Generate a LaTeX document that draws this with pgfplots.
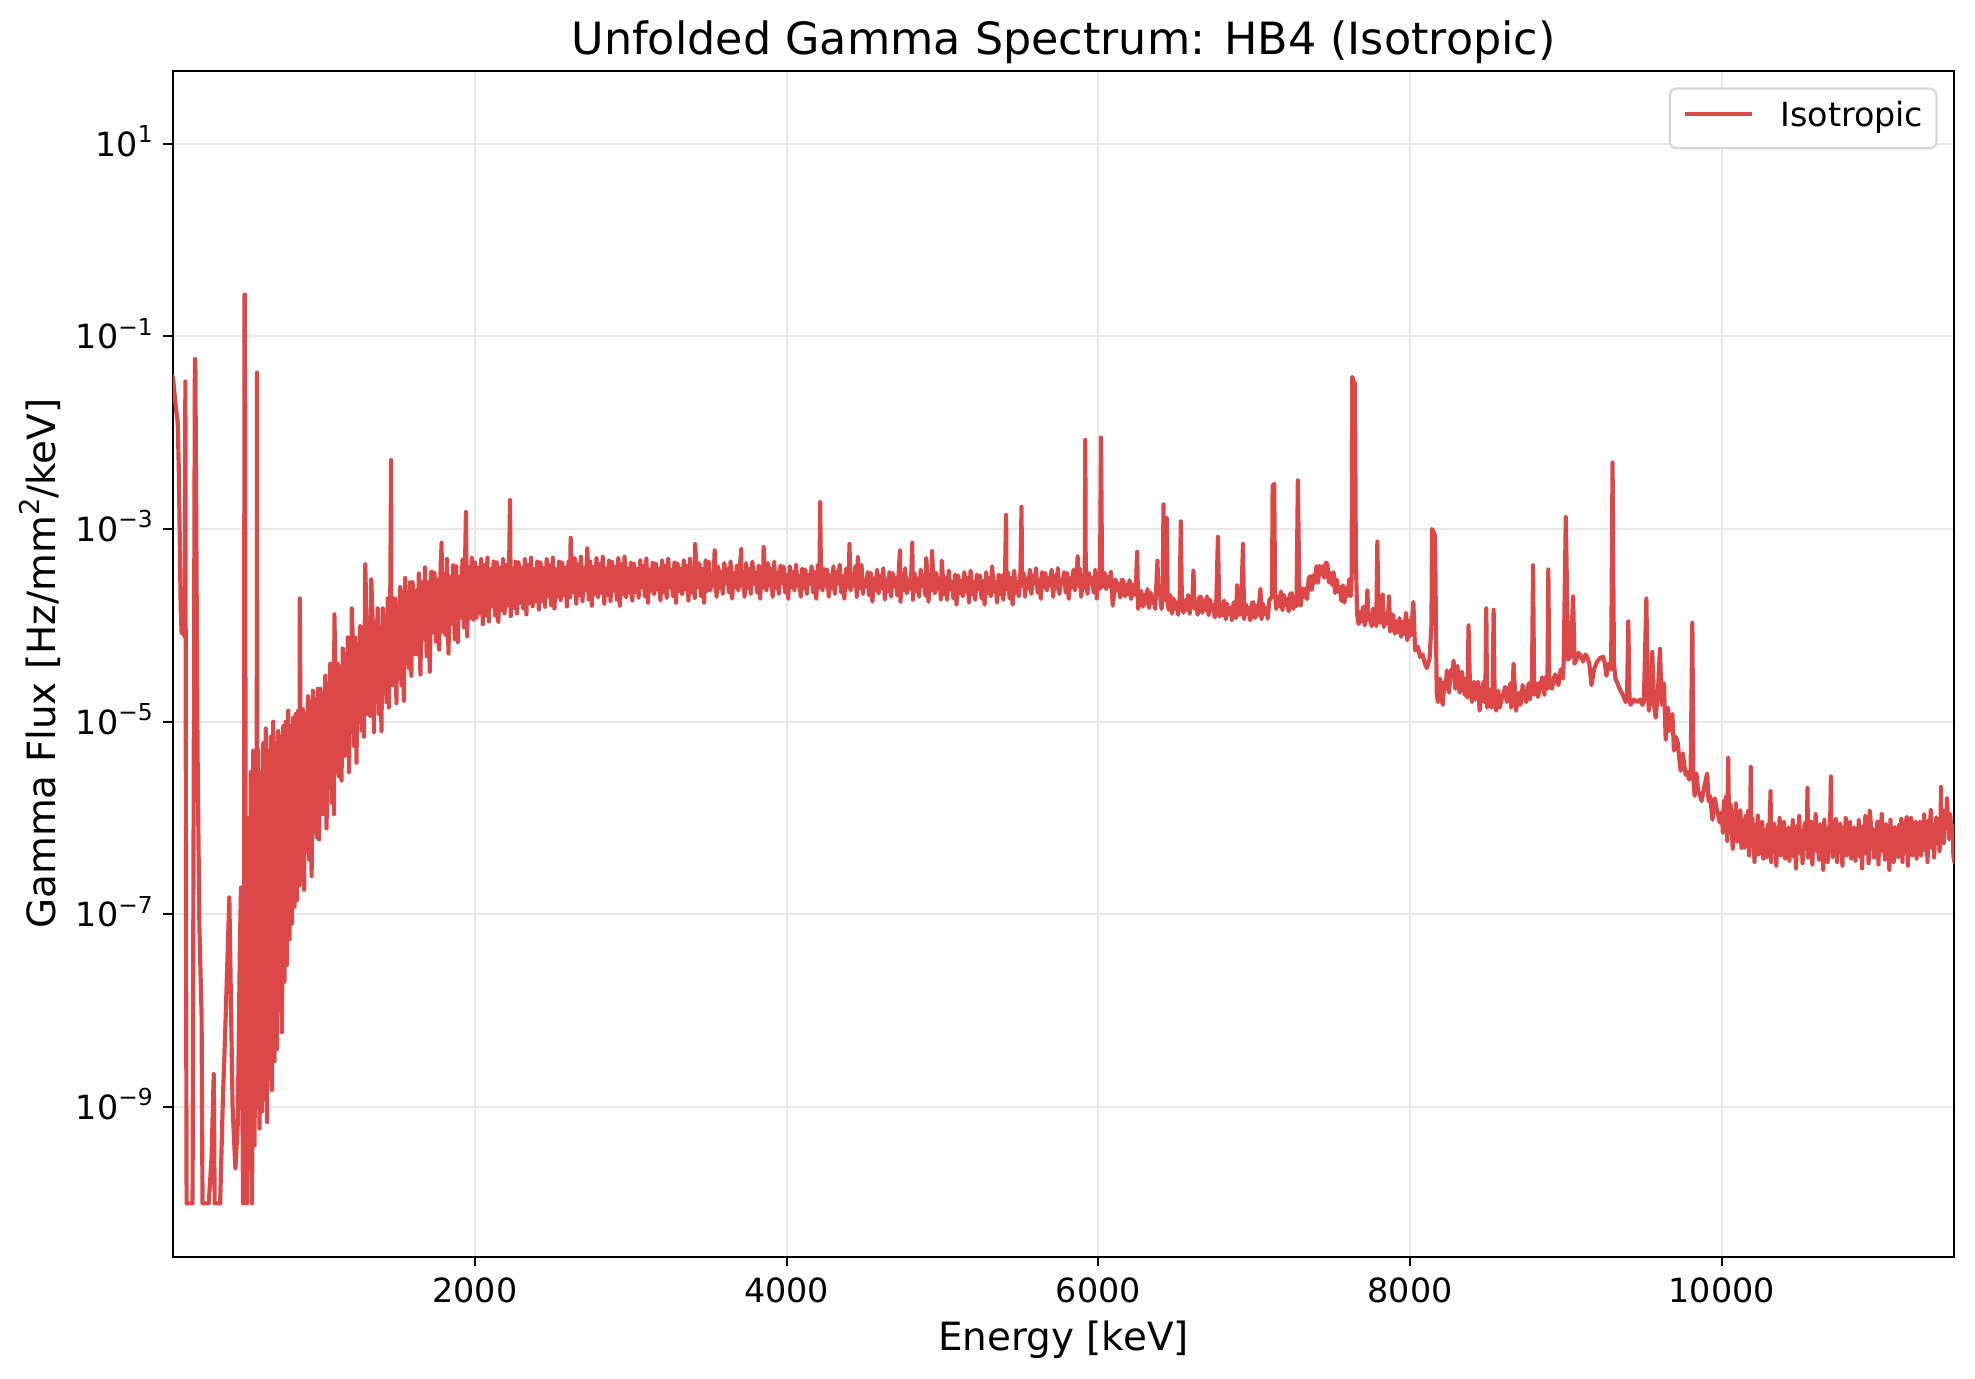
\documentclass[border=0pt]{standalone}
\usepackage{fontspec}
\setmainfont{DejaVu Sans}
\usepackage{pgfplots}
\pgfplotsset{compat=1.18}
\definecolor{isored}{RGB}{220,71,72}
\definecolor{gridgray}{RGB}{231,231,231}
\definecolor{legedge}{RGB}{214,214,214}
\newcommand{\tp}[1]{10\raisebox{4.9pt}{\fontsize{8.4}{9}\selectfont #1}}
\begin{document}
\begin{tikzpicture}
\begin{axis}[
  scale only axis, width=641.45pt, height=426.96pt,
  ymode=log, xmin=61, xmax=11492, ymin=2.8e-11, ymax=57,
  xtick={2000,4000,6000,8000,10000},
  xticklabels={2000,4000,6000,8000,10000},
  ytick={1e-9,1e-7,1e-5,1e-3,1e-1,1e1},
  yticklabels={\tp{−9},\tp{−7},\tp{−5},\tp{−3},\tp{−1},\tp{1}},
  scaled x ticks=false,
  xminorticks=false, yminorticks=false,
  tick pos=left, tick align=outside, major tick length=3.5pt,
  every tick/.style={black, line width=0.8pt},
  axis line style={line width=0.8pt},
  grid=major, major grid style={gridgray, line width=0.8pt},
  ticklabel style={font=\fontsize{12}{14}\selectfont},
  xticklabel style={anchor=base, yshift=-12.9pt},
  yticklabel style={anchor=base east, inner sep=0pt, xshift=-3.5pt, yshift=-4.5pt},
  title={Unfolded Gamma Spectrum: HB4 (Isotropic)},
  title style={at={(axis description cs:0.5,1)}, anchor=base, font=\fontsize{16}{19}\selectfont, inner sep=0pt},
  xlabel={Energy [keV]},
  xlabel style={at={(axis description cs:0.5,0)}, anchor=base, yshift=-33.8pt, font=\fontsize{14}{17}\selectfont, inner sep=0pt},
  ylabel={Gamma Flux [Hz/mm\raisebox{5.7pt}{\fontsize{9.8}{10}\selectfont 2}/keV]},
  ylabel style={at={([xshift=-42.2pt]axis description cs:0,0.5)}, anchor=base, font=\fontsize{14}{17}\selectfont, inner sep=0pt},
  legend style={at={(axis description cs:1,1)}, anchor=north east, xshift=-6pt, yshift=-6pt, draw=legedge, line width=0.8pt, rounded corners=2.5pt, fill=white, inner xsep=4.8pt, inner ysep=4.8pt, font=\fontsize{12}{14}\selectfont, nodes={inner sep=0pt, text height=9pt, text depth=2.9pt}, /tikz/every odd column/.append style={column sep=9.6pt}},
  legend image code/.code={\draw[#1, line cap=butt] (0pt,1.7pt) -- (24pt,1.7pt);},
]
\addplot[color=isored, line width=1.5pt, line join=round, line cap=round] coordinates {
(61,0.038)(68,0.03)(76,0.022)(85,0.016)(93,0.0128)(100,0.004)(106,8e-4)(112,1.5e-4)(118,8.3e-5)(126,8.5e-5)(134,8e-5)(138,7.5e-5)(142,0.034)(146,1e-7)(150,1e-10)(170,1e-10)(188,1e-10)(203,0.058)(206,0.058)(220,5e-6)(232,7.4e-8)(246,9e-9)(252,1e-10)(270,1e-10)(292,1e-10)(310,3e-10)(324,2.2e-9)(330,1e-10)(350,1e-10)(365,1e-10)(382,1.1e-9)(400,8e-9)(424,1.5e-7)(445,1e-9)(463,2.3e-10)(478,6.6e-10)(492,5e-8)(499,1.9e-7)(506,3e-9)(512,1e-10)(518,1e-10)(521,0.27)(525,0.27)(529,2e-8)
(530,3e-7)(538,1e-10)(546,1e-6)(554,2.3e-10)(562,3e-6)(570,1e-10)(578,5e-6)(586,4e-10)(594,4e-6)(600,3e-6)(602,0.042)(604,1e-9)
(610,5e-6)(618,6e-10)(626,3e-6)(634,9e-10)(642,6e-6)(650,1.2e-9)(658,8.5e-6)(666,7e-10)(674,5e-6)(682,2e-9)(690,7e-6)(698,1.5e-9)(706,1e-5)(714,3e-9)(722,6e-6)(730,4e-9)(738,8e-6)(746,1e-8)(754,7e-6)(762,6e-9)(770,9e-6)(778,2e-8)(786,1e-5)(794,3e-8)(802,1.3e-5)(810,5.5e-8)(818,9e-6)(826,8e-8)(834,1.1e-5)(842,1.2e-7)(850,1.2e-5)(858,1.4e-7)(866,1.3e-5)(874,2e-7)(876,1.9e-4)(880,1.5e-5)
(888,2.5e-7)(896,1.35e-5)(904,1.8e-7)(912,1.2e-5)(920,4.5e-7)(928,1.84e-5)(936,3.7e-7)(944,1.62e-5)(952,2.5e-7)(960,2.1e-5)(968,7.2e-7)(976,1.7e-5)(984,6.3e-7)(992,2.2e-5)(1000,6e-7)(1008,2.2e-5)(1016,1.1e-6)(1024,2e-5)(1032,1.1e-6)(1040,3e-5)(1048,7.8e-7)(1056,2.5e-5)(1064,2.1e-6)(1072,4e-5)(1080,1.44e-6)(1088,2.9e-5)(1096,1.1e-6)(1098,1.3e-4)
(1104,4e-5)(1112,3e-6)(1120,4e-5)(1128,2.7e-6)(1136,3.6e-5)(1144,2.45e-6)(1152,5.75e-5)(1160,4.4e-6)(1168,5e-5)(1176,4.5e-6)(1184,7.5e-5)(1192,3e-6)(1200,5.5e-5)(1208,7.8e-6)(1210,1.5e-4)(1216,7.35e-5)(1224,5.6e-6)(1232,7.5e-5)(1240,3.75e-6)(1248,6.4e-5)(1256,1e-5)(1264,9.8e-5)(1272,8.1e-6)(1280,8.1e-5)(1288,7e-6)(1296,4.3e-4)
(1304,1.19e-4)(1312,1.2e-5)(1320,8.2e-5)(1328,1.15e-5)(1335,3e-4)(1344,1.05e-4)(1352,7.8e-6)(1360,1.1e-4)(1368,1.8e-5)(1376,1.5e-4)(1384,1.2e-5)(1392,9.6e-5)(1400,8e-6)(1408,1.5e-4)(1416,2e-5)(1424,1.26e-4)(1432,1.6e-5)(1440,1.9e-4)(1448,1.4e-5)(1456,1.36e-4)(1462,5.2e-3)(1464,2.4e-5)(1472,1.9e-4)(1480,2.4e-5)(1488,1.9e-4)(1496,1.56e-5)
(1504,1.6e-4)(1512,3.6e-5)(1520,2.5e-4)(1528,2.4e-5)(1536,2.2e-4)(1544,1.65e-5)(1552,3.1e-4)(1560,4.3e-5)(1568,2.2e-4)(1576,3.6e-5)(1584,2.8e-4)(1592,3e-5)(1600,2.8e-4)(1610,5e-5)(1620,2.3e-4)(1630,5e-5)(1640,3.45e-4)(1650,3.1e-5)(1660,2.8e-4)(1670,7.2e-5)(1680,4e-4)(1690,4.8e-5)(1700,2.8e-4)
(1710,3.3e-5)(1720,3.6e-4)(1730,8.4e-5)(1740,3.5e-4)(1750,6.8e-5)(1760,3e-4)(1770,5.6e-5)(1780,4.1e-4)(1786,7.2e-4)(1790,8.6e-5)(1800,3.4e-4)(1810,8e-5)(1820,4.9e-4)(1830,5.1e-5)(1840,3.2e-4)(1850,1.04e-4)(1860,4.2e-4)(1870,7.2e-5)(1880,4.1e-4)(1890,6.7e-5)(1900,3.2e-4)(1910,1.2e-4)(1920,4.8e-4)(1930,9.5e-5)(1942,1.5e-3)(1950,7.7e-5)(1960,4e-4)(1970,1.2e-4)(1980,5e-4)(1990,1.15e-4)
(2000,4.5e-4)(2010,1.2e-4)(2020,3.96e-4)(2030,1.34e-4)(2040,4.86e-4)(2050,1.03e-4)(2060,4.23e-4)(2070,1.26e-4)(2080,5.04e-4)(2090,1.1e-4)(2100,3.83e-4)(2110,1.57e-4)(2120,4.59e-4)(2130,1.26e-4)(2140,4.5e-4)(2150,1.09e-4)(2160,3.96e-4)(2170,1.44e-4)(2180,4.86e-4)(2190,1.33e-4)(2200,4.23e-4)(2210,1.62e-4)(2220,5.04e-4)(2225,2e-3)(2230,1.25e-4)(2240,3.83e-4)(2250,1.52e-4)(2260,4.59e-4)(2270,1.33e-4)(2280,4.5e-4)(2290,1.71e-4)
(2300,3.96e-4)(2310,1.5e-4)(2320,4.86e-4)(2330,1.3e-4)(2340,4.23e-4)(2350,1.71e-4)(2360,5.04e-4)(2370,1.58e-4)(2380,3.83e-4)(2390,1.77e-4)(2400,4.59e-4)(2410,1.46e-4)(2420,4.5e-4)(2430,1.79e-4)(2440,3.96e-4)(2450,1.56e-4)(2460,4.86e-4)(2470,2e-4)(2480,4.23e-4)(2490,1.62e-4)(2500,5.04e-4)(2510,1.5e-4)(2520,3.83e-4)(2530,1.98e-4)(2540,4.59e-4)(2550,1.83e-4)(2560,4.5e-4)(2570,2.05e-4)(2580,3.96e-4)(2590,1.57e-4)
(2600,4.6e-4)(2610,1.95e-4)(2614,8.1e-4)(2620,4.05e-4)(2630,2.18e-4)(2640,4.97e-4)(2650,1.68e-4)(2660,4.32e-4)(2670,2.05e-4)(2680,5.15e-4)(2690,1.79e-4)(2700,3.91e-4)(2710,2.3e-4)(2721,6.3e-4)(2730,1.85e-4)(2740,4.6e-4)(2750,1.6e-4)(2760,4.05e-4)(2770,2.11e-4)(2780,4.97e-4)(2790,1.95e-4)(2800,4.32e-4)(2810,2.18e-4)(2820,5.15e-4)(2830,1.68e-4)(2840,3.91e-4)(2850,2.05e-4)(2860,4.69e-4)(2870,1.79e-4)(2880,4.6e-4)(2890,2.3e-4)(2900,4.05e-4)(2910,1.85e-4)(2920,4.97e-4)(2930,1.6e-4)(2940,4.32e-4)(2950,2.11e-4)(2960,5.15e-4)(2970,1.95e-4)(2980,3.91e-4)(2990,2.18e-4)
(3000,4.49e-4)(3010,1.81e-4)(3020,4.4e-4)(3030,2.21e-4)(3040,3.87e-4)(3050,1.93e-4)(3060,4.75e-4)(3070,2.48e-4)(3080,4.14e-4)(3090,2e-4)(3100,4.93e-4)(3110,1.72e-4)(3120,3.74e-4)(3130,2.27e-4)(3140,4.49e-4)(3150,2.1e-4)(3160,4.4e-4)(3170,2.35e-4)(3180,3.87e-4)(3190,1.81e-4)(3200,4.75e-4)(3210,2.21e-4)(3220,4.14e-4)(3230,1.93e-4)(3240,4.93e-4)(3250,2.48e-4)(3260,3.74e-4)(3270,2e-4)(3280,4.49e-4)(3290,1.72e-4)
(3300,4.4e-4)(3310,2.27e-4)(3320,3.87e-4)(3330,2.1e-4)(3340,4.75e-4)(3350,2.35e-4)(3360,4.14e-4)(3370,1.81e-4)(3380,4.93e-4)(3390,2.21e-4)(3400,3.74e-4)(3410,1.93e-4)(3412,7e-4)(3420,4.49e-4)(3430,2.48e-4)(3440,4.4e-4)(3450,2e-4)(3460,3.87e-4)(3470,1.72e-4)(3480,4.75e-4)(3490,2.27e-4)
(3500,4.59e-4)(3510,2.3e-4)(3520,3.49e-4)(3530,2.58e-4)(3538,6e-4)(3540,4.18e-4)(3550,1.98e-4)(3560,4.1e-4)(3570,2.42e-4)(3580,3.61e-4)(3590,2.12e-4)(3600,4.43e-4)(3610,2.71e-4)(3620,3.85e-4)(3630,2.19e-4)(3640,4.59e-4)(3650,1.89e-4)(3660,3.49e-4)(3670,2.48e-4)(3680,4.18e-4)(3690,2.3e-4)(3700,4.1e-4)(3709,6.2e-4)(3710,2.58e-4)(3720,3.61e-4)(3730,1.98e-4)(3740,4.43e-4)(3750,2.42e-4)
(3760,3.85e-4)(3770,2.12e-4)(3780,4.59e-4)(3790,2.71e-4)(3800,3.49e-4)(3810,2.19e-4)(3820,4.18e-4)(3830,1.89e-4)(3840,4.1e-4)(3850,2.48e-4)(3852,6.5e-4)(3860,3.61e-4)(3870,2.3e-4)(3880,4.43e-4)(3890,2.58e-4)(3900,3.85e-4)(3910,1.98e-4)(3920,4.59e-4)(3930,2.42e-4)(3940,3.49e-4)(3950,2.12e-4)(3960,4.18e-4)(3970,2.71e-4)(3980,4.1e-4)(3990,2.19e-4)
(4000,3.34e-4)(4010,1.89e-4)(4020,4.1e-4)(4030,2.48e-4)(4040,3.57e-4)(4050,2.3e-4)(4060,4.26e-4)(4070,2.58e-4)(4080,3.23e-4)(4090,1.98e-4)(4100,3.88e-4)(4110,2.42e-4)(4120,3.8e-4)(4130,2.12e-4)(4140,3.34e-4)(4150,2.71e-4)(4160,4.1e-4)(4170,2.19e-4)(4180,3.57e-4)(4190,1.89e-4)(4200,4.26e-4)(4210,2.48e-4)(4215,1.9e-3)(4220,3.23e-4)(4230,2.3e-4)(4240,3.88e-4)(4250,2.58e-4)
(4260,3.8e-4)(4270,1.98e-4)(4280,3.34e-4)(4290,2.42e-4)(4300,4.1e-4)(4310,2.12e-4)(4320,3.57e-4)(4330,2.71e-4)(4340,4.26e-4)(4350,2.19e-4)(4360,3.23e-4)(4370,1.89e-4)(4380,3.88e-4)(4390,2.48e-4)(4400,3.8e-4)(4403,7e-4)(4410,2.3e-4)(4420,3.34e-4)(4430,2.58e-4)(4440,4.1e-4)(4450,1.98e-4)(4457,5.1e-4)(4460,3.57e-4)(4470,2.42e-4)(4480,4.26e-4)(4490,2.12e-4)
(4500,2.98e-4)(4510,2.54e-4)(4520,3.57e-4)(4530,2.04e-4)(4540,3.5e-4)(4550,1.76e-4)(4560,3.08e-4)(4570,2.32e-4)(4580,3.78e-4)(4590,2.15e-4)(4600,3.29e-4)(4610,2.41e-4)(4620,3.92e-4)(4630,1.85e-4)(4640,2.98e-4)(4650,2.26e-4)(4660,3.57e-4)(4670,1.98e-4)(4680,3.5e-4)(4690,2.54e-4)(4700,3.08e-4)(4710,2.04e-4)(4720,3.78e-4)(4727,6e-4)(4730,1.76e-4)(4740,3.29e-4)(4750,2.32e-4)
(4760,3.92e-4)(4770,2.15e-4)(4780,2.98e-4)(4790,2.41e-4)(4800,3.57e-4)(4806,7.2e-4)(4810,1.85e-4)(4820,3.5e-4)(4830,2.26e-4)(4840,3.08e-4)(4850,1.98e-4)(4860,3.78e-4)(4870,2.54e-4)(4880,3.29e-4)(4890,2.04e-4)(4896,5e-4)(4900,3.92e-4)(4910,1.76e-4)(4920,2.98e-4)(4930,2.32e-4)(4932,5.9e-4)(4940,3.57e-4)(4950,2.15e-4)(4960,3.5e-4)(4970,2.41e-4)(4980,3.08e-4)(4990,1.85e-4)(4995,4.7e-4)
(5000,3.56e-4)(5010,2.1e-4)(5020,3.1e-4)(5030,1.84e-4)(5040,3.7e-4)(5050,2.36e-4)(5060,2.81e-4)(5070,1.9e-4)(5080,3.37e-4)(5090,1.64e-4)(5100,3.3e-4)(5110,2.16e-4)(5120,2.9e-4)(5130,2e-4)(5140,3.56e-4)(5150,2.24e-4)(5160,3.1e-4)(5170,1.72e-4)(5180,3.7e-4)(5190,2.1e-4)(5200,2.81e-4)(5210,1.84e-4)(5220,3.37e-4)(5230,2.36e-4)(5240,3.3e-4)(5250,1.9e-4)
(5260,2.9e-4)(5270,1.64e-4)(5280,3.56e-4)(5290,2.16e-4)(5300,3.1e-4)(5310,2e-4)(5318,4.1e-4)(5320,3.7e-4)(5330,2.24e-4)(5340,2.81e-4)(5350,1.72e-4)(5360,3.37e-4)(5370,2.1e-4)(5380,3.3e-4)(5390,1.84e-4)(5400,2.9e-4)(5408,1.4e-3)(5410,2.36e-4)(5420,3.56e-4)(5430,1.9e-4)(5440,3.1e-4)(5450,1.64e-4)(5460,3.7e-4)(5470,2.16e-4)(5480,2.81e-4)(5490,2e-4)
(5500,3.57e-4)(5507,1.7e-3)(5510,2.58e-4)(5520,3.5e-4)(5530,1.98e-4)(5540,3.08e-4)(5550,2.42e-4)(5560,3.78e-4)(5570,2.12e-4)(5580,3.29e-4)(5590,2.71e-4)(5600,3.92e-4)(5610,2.19e-4)(5620,2.98e-4)(5630,1.89e-4)(5640,3.57e-4)(5650,2.48e-4)(5660,3.5e-4)(5670,2.3e-4)(5680,3.08e-4)(5690,2.58e-4)(5700,3.78e-4)(5710,1.98e-4)(5720,3.29e-4)(5730,2.42e-4)(5740,3.92e-4)(5750,2.12e-4)
(5760,2.98e-4)(5770,2.71e-4)(5780,3.57e-4)(5790,2.19e-4)(5800,3.5e-4)(5810,1.89e-4)(5820,3.08e-4)(5830,2.48e-4)(5840,3.78e-4)(5850,2.3e-4)(5860,3.29e-4)(5867,5.2e-4)(5870,2.58e-4)(5880,3.92e-4)(5890,1.98e-4)(5900,2.98e-4)(5910,2.42e-4)(5913,5e-4)(5916,8.4e-3)(5919,3e-4)(5920,3.57e-4)(5930,2.12e-4)(5940,3.5e-4)(5950,2.71e-4)(5960,3.08e-4)(5970,2.19e-4)(5980,3.78e-4)(5990,1.89e-4)
(6000,3.4e-4)(6010,2.4e-4)(6017,8.9e-3)(6024,2.5e-4)(6030,3.3e-4)(6040,3.48e-4)(6050,2.38e-4)(6060,3.19e-4)(6070,2.55e-4)(6080,3.6e-4)(6092,1.6e-4)(6100,2.08e-4)(6110,3e-4)(6120,2.3e-4)(6130,2.68e-4)(6140,1.95e-4)(6150,2.95e-4)(6160,2.94e-4)(6170,2e-4)(6180,2.64e-4)(6190,2.11e-4)(6200,2.94e-4)(6210,1.88e-4)(6220,2.65e-4)(6230,2.07e-4)(6240,2.31e-4)(6249,5.8e-4)
(6255,1.48e-4)(6265,2.24e-4)(6275,2.28e-4)(6285,1.56e-4)(6295,2.09e-4)(6305,1.67e-4)(6315,2.38e-4)(6325,1.52e-4)(6335,2.19e-4)(6345,1.71e-4)(6355,2e-4)(6365,1.48e-4)(6379,4.7e-4)(6385,2.24e-4)(6395,2.22e-4)(6405,1.48e-4)(6412,1.8e-4)(6418,1.8e-3)(6424,2e-4)(6430,1.82e-4)(6439,1.3e-3)(6445,1.6e-4)(6452,1.45e-4)(6462,2.06e-4)(6472,1.32e-4)(6482,1.9e-4)(6492,1.49e-4)(6502,1.73e-4)(6512,1.29e-4)(6522,1.95e-4)(6529,1.2e-3)(6536,1.6e-4)
(6546,1.35e-4)(6556,1.82e-4)(6566,1.45e-4)(6576,2.06e-4)(6586,1.32e-4)(6596,1.9e-4)(6603,1.7e-4)(6610,3.7e-4)(6617,1.49e-4)(6627,1.73e-4)(6637,1.29e-4)(6647,1.95e-4)(6657,1.98e-4)(6667,1.35e-4)(6677,1.82e-4)(6687,1.45e-4)(6697,2e-4)(6707,1.28e-4)(6717,1.84e-4)(6727,1.44e-4)(6737,1.63e-4)(6747,1.21e-4)(6757,1.83e-4)(6767,8.3e-4)(6777,1.23e-4)(6787,1.6e-4)(6797,1.28e-4)
(6807,1.81e-4)(6817,1.16e-4)(6827,1.67e-4)(6837,1.31e-4)(6847,1.52e-4)(6857,1.13e-4)(6867,1.71e-4)(6877,1.74e-4)(6884,1.19e-4)(6890,2.6e-4)(6897,1.6e-4)(6907,1.28e-4)(6917,1.81e-4)(6928,7e-4)(6935,1.16e-4)(6945,1.67e-4)(6955,1.31e-4)(6965,1.52e-4)(6975,1.13e-4)(6985,1.71e-4)(6995,1.74e-4)(7005,1.19e-4)(7015,1.6e-4)(7025,1.28e-4)(7033,1.81e-4)(7040,2.4e-4)(7047,1.16e-4)(7057,1.67e-4)(7067,1.31e-4)(7077,1.52e-4)(7087,1.17e-4)(7097,1.83e-4)
(7107,1.92e-4)(7114,2e-4)(7118,2.8e-3)(7128,2.95e-3)(7134,2e-4)(7141,1.48e-4)(7151,1.98e-4)(7161,1.58e-4)(7171,2.25e-4)(7181,1.44e-4)(7191,2.07e-4)(7201,1.62e-4)(7211,1.89e-4)(7221,1.4e-4)(7231,2.12e-4)(7241,2.16e-4)(7251,1.48e-4)(7261,1.98e-4)(7271,1.58e-4)(7280,3.2e-3)(7289,2.38e-4)(7299,1.6e-4)(7309,2.42e-4)(7319,1.98e-4)(7329,2.42e-4)(7339,1.87e-4)(7349,3e-4)(7359,3.24e-4)(7369,2.34e-4)(7379,3.3e-4)(7389,2.77e-4)
(7399,4.1e-4)(7409,2.76e-4)(7419,4.14e-4)(7429,3.38e-4)(7439,4.1e-4)(7449,3.12e-4)(7459,4.48e-4)(7469,4.32e-4)(7479,2.79e-4)(7489,3.52e-4)(7499,2.64e-4)(7509,3.56e-4)(7519,2.16e-4)(7529,2.99e-4)(7539,2.25e-4)(7549,2.52e-4)(7559,1.79e-4)(7569,2.6e-4)(7579,1.72e-4)(7589,2.42e-4)(7599,2.02e-4)(7609,3e-4)(7619,2e-4)(7625,3e-4)(7629,0.038)(7640,0.033)(7646,0.033)(7652,5e-4)
(7660,1.3e-4)(7670,1.03e-4)(7680,1.38e-4)(7690,1.1e-4)(7700,1.56e-4)(7710,1e-4)(7720,1.44e-4)(7726,2.3e-4)(7733,1.13e-4)(7743,1.31e-4)(7753,9.8e-5)(7763,1.48e-4)(7773,1.44e-4)(7783,9.8e-5)(7790,7.4e-4)(7797,1.32e-4)(7807,1.06e-4)(7817,1.5e-4)(7824,2.1e-4)(7831,9.6e-5)(7841,1.32e-4)(7851,1.04e-4)(7858,1.21e-4)(7865,2e-4)(7872,8.6e-5)(7882,1.3e-4)(7892,1.26e-4)(7902,8.2e-5)(7912,1.1e-4)(7922,8.5e-5)(7932,1.19e-4)(7942,7.6e-5)(7952,1.09e-4)(7962,8.1e-5)(7974,1.35e-4)(7982,7e-5)(7992,1.12e-4)(8002,7.8e-5)(8012,1.1e-4)
(8021,1.75e-4)(8032,5.5e-5)(8050,6e-5)(8064,4.7e-5)(8080,5e-5)(8095,4e-5)(8107,3.6e-5)(8125,4.5e-5)(8137,1e-4)(8141,1e-3)(8160,8.6e-4)(8166,1e-4)(8171,2e-5)(8178,1.6e-5)(8185,2.5e-5)(8192,2.8e-5)(8200,1.8e-5)(8210,1.5e-5)(8220,2.6e-5)(8228,2.2e-5)(8236,3.4e-5)(8243,2.6e-5)(8250,2e-5)(8257,2.8e-5)(8265,3.5e-5)(8272,2.9e-5)(8279,4.3e-5)(8284,3e-5)(8290,2.2e-5)(8297,3.2e-5)(8304,3.8e-5)(8311,2.5e-5)(8318,2e-5)(8325,2.6e-5)(8332,3.3e-5)(8341,2.5e-5)(8350,1.9e-5)(8356,2.8e-5)(8362,2.5e-5)(8368,1.8e-5)(8375,1e-4)(8385,2e-5)(8391,2.4e-5)(8397,1.6e-5)
(8405,2e-5)(8412,2.6e-5)(8420,1.7e-5)(8429,2.2e-5)(8437,2.6e-5)(8446,1.3e-5)(8455,1.8e-5)(8465,2.2e-5)(8471,2.6e-5)(8478,1.6e-5)(8483,2e-5)(8489,1.5e-4)(8494,1.4e-5)(8500,1.7e-5)(8505,2.2e-5)(8510,1.9e-5)(8516,1.6e-5)(8522,1.4e-5)(8529,2e-5)(8536,1.45e-4)(8542,2e-5)(8547,1.5e-5)(8552,1.3e-5)(8557,1.7e-5)(8566,2.1e-5)(8575,1.4e-5)(8587,1.7e-5)(8600,2e-5)(8610,2.3e-5)(8620,1.6e-5)(8632,1.9e-5)(8643,2.5e-5)(8649,1.4e-5)(8655,1.8e-5)(8664,4e-5)(8672,2.2e-5)(8680,1.3e-5)(8690,1.7e-5)(8700,2e-5)(8708,1.5e-5)(8715,1.7e-5)(8722,2.4e-5)(8729,2.1e-5)(8737,1.9e-5)(8745,1.6e-5)(8753,2e-5)(8761,2.5e-5)(8768,1.7e-5)(8775,2.2e-5)(8782,2.6e-5)(8789,4.2e-4)(8796,1.9e-5)
(8804,2.3e-5)(8812,2.5e-5)(8820,1.8e-5)(8828,2.1e-5)(8835,2.6e-5)(8841,2.2e-5)(8847,2.9e-5)(8855,2.4e-5)(8862,1.9e-5)(8868,2.9e-5)(8875,2.5e-5)(8881,2.2e-5)(8887,3.8e-4)(8893,2.8e-5)(8900,2.3e-5)(8910,2.2e-5)(8920,2.7e-5)(8931,3.1e-5)(8943,2.6e-5)(8952,2.4e-5)(8960,3e-5)(8967,3.5e-5)(8975,3.2e-5)(8981,2.8e-5)(8986,4.4e-5)(8999,1.33e-3)(9014,4.4e-5)(9030,4.8e-5)(9046,2e-4)(9055,4e-5)(9070,4.5e-5)(9080,5.2e-5)(9093,4.9e-5)(9110,4.2e-5)(9125,5e-5)(9136,4.7e-5)(9150,4e-5)(9164,2.4e-5)(9180,3.5e-5)(9200,4.2e-5)(9220,4.6e-5)(9239,4.7e-5)(9250,4e-5)(9260,3e-5)(9275,4e-5)(9290,3.5e-5)(9299,4.9e-3)(9308,4e-5)(9318,2.8e-5)(9335,2.4e-5)(9350,2.1e-5)(9365,1.9e-5)(9383,1.6e-5)(9392,1.8e-5)(9400,1.1e-4)
(9408,1.7e-5)(9415,1.5e-5)(9435,1.7e-5)(9458,1.6e-5)(9475,1.7e-5)(9490,1.5e-5)(9500,1.6e-5)(9516,1.9e-4)(9525,2e-5)(9533,1.3e-5)(9545,2e-5)(9554,5.3e-5)(9565,1.5e-5)(9576,1.1e-5)(9590,2e-5)(9603,5.7e-5)(9615,1.5e-5)(9629,2.5e-5)(9640,6.5e-6)(9655,1.4e-5)(9665,8e-6)(9683,1.2e-5)(9693,5e-6)(9705,7e-6)(9718,6e-6)(9728,4e-6)(9736,3.1e-6)(9750,4.7e-6)(9768,2.8e-6)(9780,3e-6)(9790,2.5e-6)(9800,3e-6)(9811,1.06e-4)
(9818,2.5e-6)(9826,1.7e-6)(9837,2.9e-6)(9848,1.9e-6)(9858,1.8e-6)(9870,1.5e-6)(9885,2e-6)(9906,2.9e-6)(9915,1.5e-6)(9925,1.7e-6)(9940,9.6e-7)(9955,1.6e-6)(9970,1.2e-6)(9987,9e-7)
(10000,1.15e-6)(10007,7e-7)(10014,1.5e-6)(10021,8.7e-7)(10028,1.66e-6)(10035,5.8e-7)(10041,4.2e-6)(10046,1e-6)(10049,7.1e-7)(10056,1.39e-6)(10063,8.7e-7)(10070,4.8e-7)(10077,1.16e-6)(10084,6.8e-7)(10091,1.42e-6)(10098,5.7e-7)(10105,9.4e-7)(10112,7.1e-7)(10119,1.2e-6)(10126,4.9e-7)(10133,9.7e-7)
(10140,8e-7)(10147,4.9e-7)(10154,1.05e-6)(10161,6.2e-7)(10168,1.18e-6)(10175,4.1e-7)(10182,8.5e-7)(10186,3.4e-6)(10189,5.1e-7)(10196,1e-6)(10203,6.3e-7)(10210,3.5e-7)(10217,8.5e-7)(10224,5e-7)(10231,1.06e-6)(10238,4.2e-7)(10245,7e-7)(10252,5.4e-7)(10259,9.1e-7)(10266,3.8e-7)(10273,7.6e-7)
(10280,6.3e-7)(10287,3.9e-7)(10294,8.5e-7)(10301,5e-7)(10308,9.8e-7)(10313,1.9e-6)(10316,3.5e-7)(10322,7.2e-7)(10329,4.4e-7)(10336,8.8e-7)(10343,5.7e-7)(10350,3.2e-7)(10357,7.9e-7)(10364,4.7e-7)(10371,1e-6)(10378,4.1e-7)(10385,6.9e-7)(10392,5.4e-7)(10399,9.1e-7)(10406,3.8e-7)(10413,7.6e-7)
(10420,5.2e-7)(10427,8e-7)(10434,3.6e-7)(10441,7e-7)(10448,4.6e-7)(10455,9.5e-7)(10462,4e-7)(10469,6.6e-7)(10476,3e-7)(10483,8.3e-7)(10490,5.8e-7)(10497,1.05e-6)(10504,4.3e-7)(10511,7.4e-7)(10518,3.4e-7)(10525,6e-7)(10532,8.9e-7)(10539,4.8e-7)(10546,7.8e-7)(10550,2.05e-6)(10553,3.9e-7)
(10560,6.8e-7)(10567,4.2e-7)(10574,9.2e-7)(10581,3.3e-7)(10588,7.5e-7)(10595,5.5e-7)(10602,1.1e-6)(10609,4.5e-7)(10616,6.2e-7)(10623,3.7e-7)(10630,8.6e-7)(10637,5e-7)(10644,7.1e-7)(10651,2.9e-7)(10658,9.6e-7)(10665,4.4e-7)(10672,6.5e-7)(10679,3.5e-7)(10686,8.1e-7)(10693,5.3e-7)(10700,2.7e-6)
(10704,6.3e-7)(10711,3.9e-7)(10718,8.5e-7)(10725,5e-7)(10732,9.8e-7)(10739,3.5e-7)(10746,7.2e-7)(10753,4.4e-7)(10760,8.8e-7)(10767,5.7e-7)(10774,3.2e-7)(10781,7.9e-7)(10788,4.7e-7)(10795,1e-6)(10802,4.1e-7)(10809,6.9e-7)(10816,5.4e-7)(10823,9.1e-7)(10830,3.8e-7)(10837,7.6e-7)
(10844,5.2e-7)(10851,8e-7)(10858,3.6e-7)(10865,7e-7)(10872,4.6e-7)(10879,9.5e-7)(10886,4e-7)(10893,6.6e-7)(10900,3e-7)(10907,8.3e-7)(10914,5.8e-7)(10921,1.05e-6)(10928,4.3e-7)(10935,7.4e-7)(10942,3.4e-7)(10949,1.2e-6)(10956,8.9e-7)(10963,4.8e-7)(10970,7.8e-7)(10977,3.9e-7)
(10984,6.8e-7)(10991,4.2e-7)(10998,9.2e-7)(11005,3.3e-7)(11012,7.5e-7)(11019,5.5e-7)(11026,1.1e-6)(11033,4.5e-7)(11040,6.2e-7)(11047,3.7e-7)(11054,8.6e-7)(11061,5e-7)(11068,7.1e-7)(11075,2.9e-7)(11082,9.6e-7)(11089,4.4e-7)(11096,6.5e-7)(11103,3.5e-7)(11110,8.1e-7)(11117,5.3e-7)
(11124,6.3e-7)(11131,3.9e-7)(11138,8.5e-7)(11145,5e-7)(11152,9.8e-7)(11159,3.5e-7)(11166,7.2e-7)(11173,4.4e-7)(11180,8.8e-7)(11187,1.03e-6)(11194,3.2e-7)(11201,7.9e-7)(11208,4.7e-7)(11215,1e-6)(11222,4.1e-7)(11229,6.9e-7)(11236,5.4e-7)(11243,9.1e-7)(11250,3.8e-7)(11257,7.6e-7)
(11264,6e-7)(11271,9.2e-7)(11278,4.1e-7)(11285,8e-7)(11292,5.3e-7)(11299,1.09e-6)(11306,4.6e-7)(11313,7.6e-7)(11320,3.5e-7)(11327,9.5e-7)(11334,6.7e-7)(11341,1.21e-6)(11348,4.9e-7)(11355,8.5e-7)(11362,3.9e-7)(11369,6.9e-7)(11376,1.02e-6)(11383,5.5e-7)(11390,9e-7)(11397,4.5e-7)
(11404,7.5e-7)(11406,2.1e-6)(11410,6.5e-7)(11417,9.5e-7)(11424,5.5e-7)(11431,1.2e-6)(11438,8e-7)(11445,1.6e-6)(11452,9e-7)(11459,6e-7)(11466,1.1e-6)(11473,7e-7)(11480,8.5e-7)(11486,4e-7)(11492,3.5e-7)
};
\addlegendentry{Isotropic}
\end{axis}
\pgfresetboundingbox
\useasboundingbox (-62.2pt,-44.0pt) rectangle (648.9pt,452.45pt);
\end{tikzpicture}
\end{document}
